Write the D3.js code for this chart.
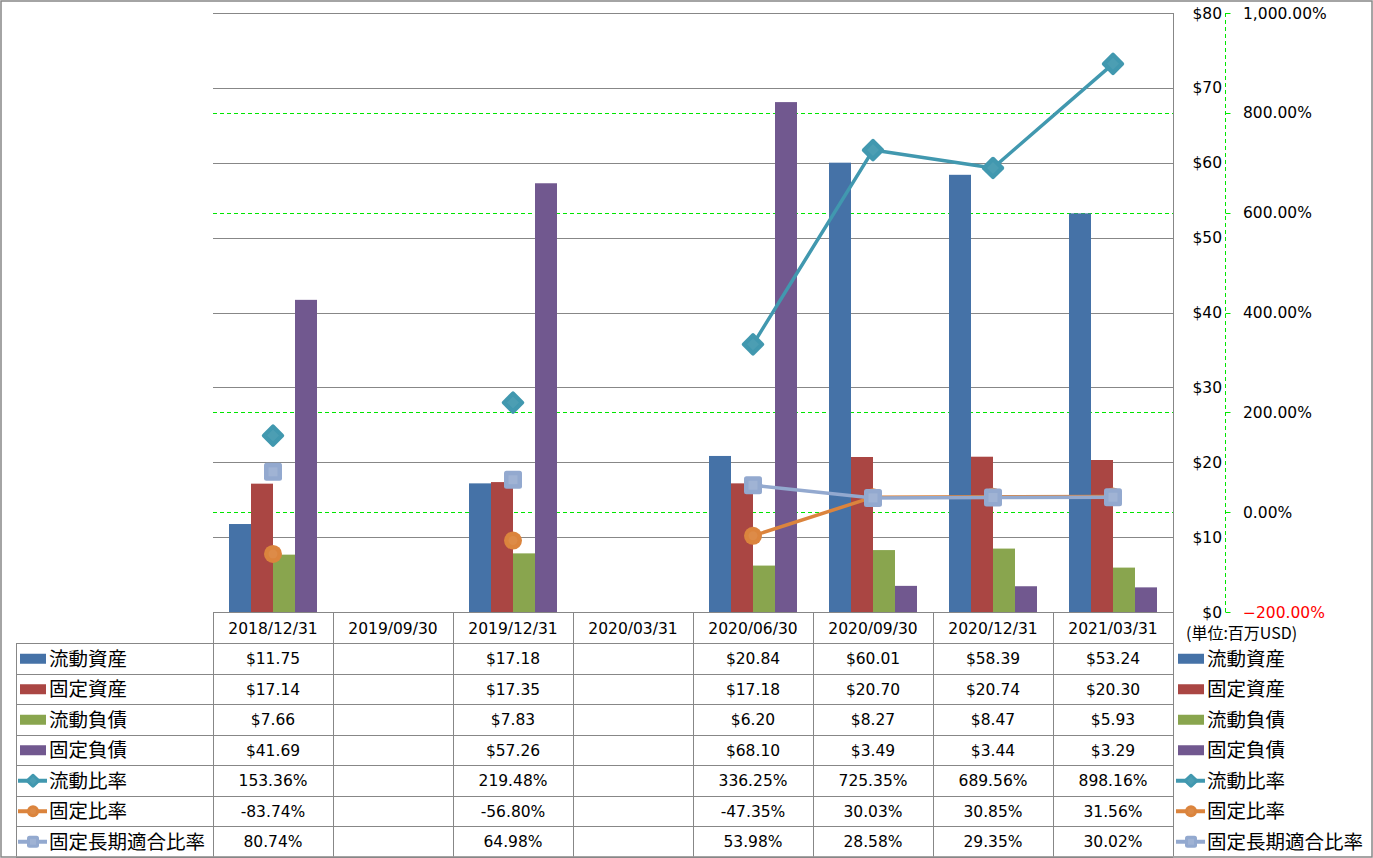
<!DOCTYPE html>
<html><head><meta charset="utf-8">
<script src="https://cdn.jsdelivr.net/npm/d3@7"></script>
<style>
html,body{margin:0;padding:0;background:#fff;}
svg{display:block;}
text{font-family:"DejaVu Sans",sans-serif;fill:#000;}
.cjk{font-family:"Noto Sans CJK JP",sans-serif;}
</style></head>
<body>
<svg id="chart" width="1373" height="858"></svg>
<script>
const categories = ["2018/12/31","2019/09/30","2019/12/31","2020/03/31","2020/06/30","2020/09/30","2020/12/31","2021/03/31"];
const currentAssets = [11.75, null, 17.18, null, 20.84, 60.01, 58.39, 53.24];
const fixedAssets = [17.14, null, 17.35, null, 17.18, 20.70, 20.74, 20.30];
const currentLiabilities = [7.66, null, 7.83, null, 6.20, 8.27, 8.47, 5.93];
const fixedLiabilities = [41.69, null, 57.26, null, 68.10, 3.49, 3.44, 3.29];
const currentRatio = [153.36, null, 219.48, null, 336.25, 725.35, 689.56, 898.16];
const fixedRatio = [-83.74, null, -56.80, null, -47.35, 30.03, 30.85, 31.56];
const fixedLongTermRatio = [80.74, null, 64.98, null, 53.98, 28.58, 29.35, 30.02];
const leftTicks = [0,10,20,30,40,50,60,70,80];
const rightTicks = [-200,0,200,400,600,800,1000];
const unitLabel = "(単位:百万USD)";

const barSeries = [
  {name:"流動資産", values: currentAssets, color:"#4572A7"},
  {name:"固定資産", values: fixedAssets, color:"#AA4643"},
  {name:"流動負債", values: currentLiabilities, color:"#89A54E"},
  {name:"固定負債", values: fixedLiabilities, color:"#71588F"}
];
const lineSeries = [
  {name:"流動比率", values: currentRatio, color:"#4198AF", marker:"diamond"},
  {name:"固定比率", values: fixedRatio, color:"#DB843D", marker:"circle"},
  {name:"固定長期適合比率", values: fixedLongTermRatio, color:"#93A9CF", marker:"square"}
];

const svg = d3.select("#chart");
const L = 213, R = 1173, T = 13, B = 612;
const gridColor = "#878787";
const green = "#00E600";

const x = d3.scaleBand().domain(categories).range([L, R]).padding(0);
const xs = d3.scaleBand().domain(barSeries.map(s=>s.name)).range([16, 104]).padding(0);
const yL = d3.scaleLinear().domain([0,80]).range([B, T]);
const yR = d3.scaleLinear().domain([-200,1000]).range([B, T]);

// outer border
svg.append("rect").attr("x",1).attr("y",1).attr("width",1371).attr("height",856)
  .attr("fill","none").attr("stroke",gridColor).attr("stroke-width",1.5);

// green dashed gridlines (secondary)
svg.append("g").selectAll("line").data(rightTicks).join("line")
  .attr("x1",L).attr("x2",R).attr("y1",d=>Math.round(yR(d))+0.5).attr("y2",d=>Math.round(yR(d))+0.5)
  .attr("stroke",green).attr("stroke-width",1).attr("stroke-dasharray","4,3");

// primary gridlines
svg.append("g").selectAll("line").data(leftTicks).join("line")
  .attr("x1",L).attr("x2",R).attr("y1",d=>Math.round(yL(d))+0.5).attr("y2",d=>Math.round(yL(d))+0.5)
  .attr("stroke",gridColor).attr("stroke-width",1);

// bars
const gBars = svg.append("g");
barSeries.forEach(s=>{
  gBars.append("g").selectAll("rect").data(s.values.map((v,i)=>({v,c:categories[i]})).filter(d=>d.v!=null)).join("rect")
    .attr("x",d=>x(d.c)+xs(s.name)).attr("width",xs.bandwidth())
    .attr("y",d=>yL(d.v)).attr("height",d=>yL(0)-yL(d.v))
    .attr("fill",s.color);
});

// right plot border
svg.append("line").attr("x1",R+0.5).attr("x2",R+0.5).attr("y1",T).attr("y2",856)
  .attr("stroke",gridColor).attr("stroke-width",1);

// primary axis labels (right side)
svg.append("g").selectAll("text").data(leftTicks).join("text")
  .attr("x",1222).attr("y",d=>yL(d)).attr("dy","0.36em").attr("text-anchor","end")
  .attr("font-size","15.5px").text(d=>"$"+d);

// secondary axis
const axX = 1225.5;
svg.append("line").attr("x1",axX).attr("x2",axX).attr("y1",T).attr("y2",B)
  .attr("stroke",green).attr("stroke-width",1).attr("stroke-dasharray","4,3");
svg.append("g").selectAll("line").data(rightTicks).join("line")
  .attr("x1",axX).attr("x2",axX+5).attr("y1",d=>Math.round(yR(d))+0.5).attr("y2",d=>Math.round(yR(d))+0.5)
  .attr("stroke",green).attr("stroke-width",1);
const pctFmt = d3.format(",.2f");
svg.append("g").selectAll("text").data(rightTicks).join("text")
  .attr("x",1243).attr("y",d=>yR(d)).attr("dy","0.36em")
  .attr("font-size","15.5px").style("fill",d=>d<0?"#FF0000":"#000")
  .text(d=>pctFmt(d)+"%");

// markers
function drawMarker(g, type, color, size){
  if(type==="diamond"){
    const s = size;
    g.append("rect").attr("x",-s/2).attr("y",-s/2).attr("width",s).attr("height",s).attr("rx",2)
      .attr("transform","rotate(45)").attr("fill",color);
    g.append("rect").attr("x",-s/4).attr("y",-s/4).attr("width",s/2).attr("height",s/2)
      .attr("transform","rotate(45)").attr("fill","#fff").attr("opacity",0.06);
  } else if(type==="circle"){
    g.append("circle").attr("r",size/2).attr("fill",color);
    g.append("circle").attr("r",size/4).attr("fill","#fff").attr("opacity",0.06);
  } else {
    const s = size;
    g.append("rect").attr("x",-s/2).attr("y",-s/2).attr("width",s).attr("height",s).attr("rx",2.5).attr("fill",color);
    g.append("rect").attr("x",-s/4).attr("y",-s/4).attr("width",s/2).attr("height",s/2).attr("fill","#fff").attr("opacity",0.12);
  }
}

const cx = c => x(c) + x.bandwidth()/2;
const gLines = svg.append("g");
lineSeries.forEach(s=>{
  const pts = s.values.map((v,i)=>({v,c:categories[i]}));
  const line = d3.line().defined(d=>d.v!=null).x(d=>cx(d.c)).y(d=>yR(d.v));
  gLines.append("path").datum(pts).attr("d",line).attr("fill","none")
    .attr("stroke",s.color).attr("stroke-width",3.5).attr("stroke-linejoin","round");
});
lineSeries.forEach(s=>{
  s.values.forEach((v,i)=>{
    if(v==null) return;
    const g = gLines.append("g").attr("transform",`translate(${cx(categories[i])},${yR(v)})`);
    drawMarker(g, s.marker, s.color, s.marker==="diamond"?17:18);
  });
});

// data table
const rowTop = 643, rowH = 30.5;
const nRows = barSeries.length + lineSeries.length;
const tableBottom = rowTop + nRows*rowH;
const tg = svg.append("g");
// horizontal lines
tg.append("line").attr("x1",L).attr("x2",R).attr("y1",B+0.5).attr("y2",B+0.5).attr("stroke",gridColor);
d3.range(nRows+1).forEach(i=>{
  const yy = Math.round(rowTop + i*rowH)+0.5;
  tg.append("line").attr("x1",16).attr("x2",R).attr("y1",yy).attr("y2",yy).attr("stroke",gridColor);
});
// vertical lines
tg.append("line").attr("x1",16.5).attr("x2",16.5).attr("y1",rowTop).attr("y2",tableBottom).attr("stroke",gridColor);
categories.forEach(c=>{
  const xx = Math.round(x(c))+0.5;
  tg.append("line").attr("x1",xx).attr("x2",xx).attr("y1",B).attr("y2",tableBottom).attr("stroke",gridColor);
});
// header
tg.append("g").selectAll("text").data(categories).join("text")
  .attr("x",d=>cx(d)).attr("y",(B+rowTop)/2+1).attr("dy","0.36em").attr("text-anchor","middle")
  .attr("font-size","15.5px").text(d=>d);

const allSeries = [...barSeries.map(s=>({...s,kind:"bar"})), ...lineSeries.map(s=>({...s,kind:"line"}))];
allSeries.forEach((s,r)=>{
  const yc = rowTop + r*rowH + rowH/2 + 0.5;
  s.values.forEach((v,i)=>{
    if(v==null) return;
    tg.append("text").attr("x",cx(categories[i])).attr("y",yc).attr("dy","0.36em")
      .attr("text-anchor","middle").attr("font-size","15.5px")
      .text(s.kind==="bar" ? "$"+v.toFixed(2) : v.toFixed(2)+"%");
  });
  // legend keys: in table and on right
  [[20,49],[1178,1207]].forEach(([kx,tx])=>{
    const kg = tg.append("g");
    if(s.kind==="bar"){
      kg.append("rect").attr("x",kx).attr("y",yc-5).attr("width",26).attr("height",10).attr("fill",s.color);
    } else {
      kg.append("line").attr("x1",kx-2).attr("x2",kx+27).attr("y1",yc).attr("y2",yc)
        .attr("stroke",s.color).attr("stroke-width",4);
      const mg = kg.append("g").attr("transform",`translate(${kx+13},${yc})`);
      drawMarker(mg, s.marker, s.color, s.marker==="diamond"?11:12);
    }
    kg.append("text").attr("class","cjk").attr("x",tx).attr("y",yc).attr("dy","0.36em")
      .attr("font-size","19.5px").text(s.name);
  });
});

// unit label
svg.append("text").attr("class","cjk").attr("x",1186).attr("y",633).attr("dy","0.36em")
  .attr("font-size","16px").text(unitLabel);
</script>
</body></html>
